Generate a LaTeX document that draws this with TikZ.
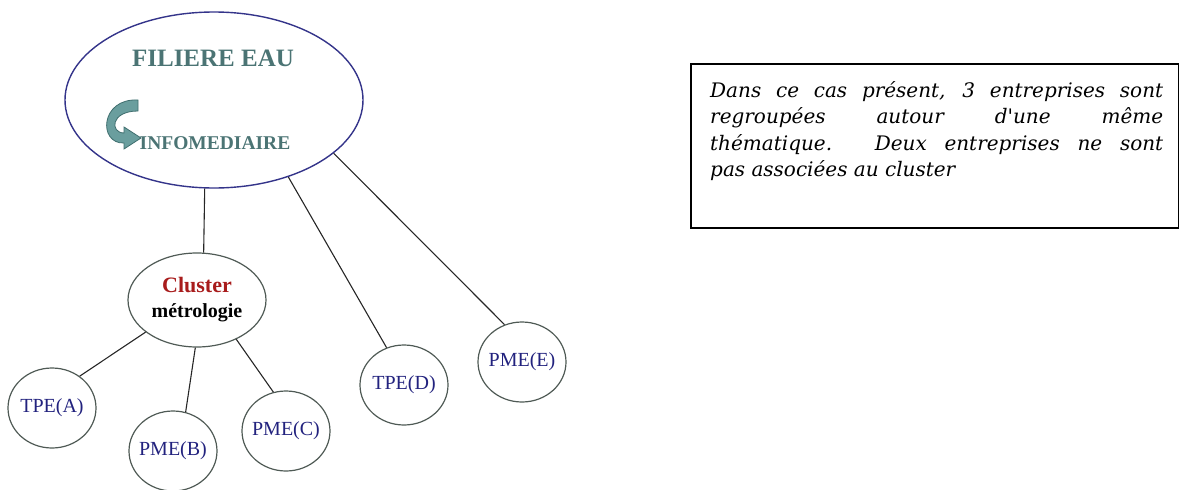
\documentclass[tikz,border=0pt]{standalone}
\usepackage{fontspec}
\setmainfont{Liberation Serif}
\newfontfamily\notefont{DejaVu Serif}
\usepackage{xcolor}
\usepackage{tikz}
\usetikzlibrary{positioning}
\usetikzlibrary{shapes.geometric}
\usetikzlibrary{arrows.meta}

\definecolor{navyline}{HTML}{34348A}
\definecolor{titleteal}{HTML}{4B7474}
\definecolor{swirlfill}{HTML}{6A9E9E}
\definecolor{swirlline}{HTML}{3F6E6E}
\definecolor{clusterred}{HTML}{A81C1C}
\definecolor{leafline}{HTML}{4F5A55}
\definecolor{leaftext}{HTML}{22227E}

\begin{document}
\begin{tikzpicture}[
  x=1pt, y=-1pt,
  bigoval/.style={draw=navyline, line width=1.4pt, ellipse, minimum width=298pt, minimum height=176pt, inner sep=0pt},
  title/.style={text=titleteal, font=\bfseries\fontsize{25}{26}\selectfont},
  subtitle/.style={text=titleteal, font=\bfseries\fontsize{19.5}{20}\selectfont},
  swirl/.style={fill=swirlfill, draw=swirlline, line width=0.8pt},
  clusteroval/.style={draw=leafline, line width=1.2pt, ellipse, minimum width=138pt, minimum height=94pt, inner sep=0pt, align=center, font=\bfseries\fontsize{20}{25}\selectfont},
  leaf/.style={draw=leafline, line width=1.2pt, ellipse, minimum width=88pt, minimum height=80pt, inner sep=-8pt, text=leaftext, font=\fontsize{20}{22}\selectfont},
  link/.style={line width=1.1pt, black!85},
  frame/.style={draw, line width=1.6pt, minimum width=488pt, minimum height=164pt, anchor=north west},
  note/.style={inner sep=0pt, text width=453pt, align=justify, font=\notefont\itshape\fontsize{20}{26.5}\selectfont}
]
\useasboundingbox (0,0) rectangle (1179,490);

% Filiere
\node[bigoval] (filiere) at (214,100) {};
\node[title] (titre) at (213,58) {FILIERE EAU};
\node[subtitle] (info) at (215,143) {INFOMEDIAIRE};
\fill[swirl] (138,100) .. controls (100,98) and (98,144) .. (124,143) -- (124,149) -- (141,138)
  -- (124,127) -- (124,133) .. controls (110,133) and (110,111) .. (138,111) -- cycle;

% Cluster and enterprises
\node[clusteroval] (cluster) at (197,300) {\textcolor{clusterred}{\fontsize{22}{24}\selectfont Cluster}\\métrologie};
\node[leaf] (tpeA) at (52,408) {TPE(A)};
\node[leaf] (pmeB) at (173,451) {PME(B)};
\node[leaf] (pmeC) at (286,431) {PME(C)};
\node[leaf] (tpeD) at (404,385) {TPE(D)};
\node[leaf] (pmeE) at (522,362) {PME(E)};

\draw[link] (filiere.-96) -- (cluster.82);
\draw[link] (filiere.-46) -- (tpeD.115);
\draw[link] (filiere.-24) -- (pmeE.115);
\draw[link] (cluster.212) -- (tpeA.49);
\draw[link] (cluster.268) -- (pmeB.72);
\draw[link] (cluster.-45) -- (pmeC.108);

% Commentaire
\node[frame] (box) at (690,63) {};
\node[note, below right=18pt and 20pt of box.north west] (note) {Dans ce cas présent, 3 entreprises sont\linebreak regroupées autour d'une même\linebreak thématique. Deux entreprises ne sont\linebreak pas associées au cluster};

\end{tikzpicture}
\end{document}
